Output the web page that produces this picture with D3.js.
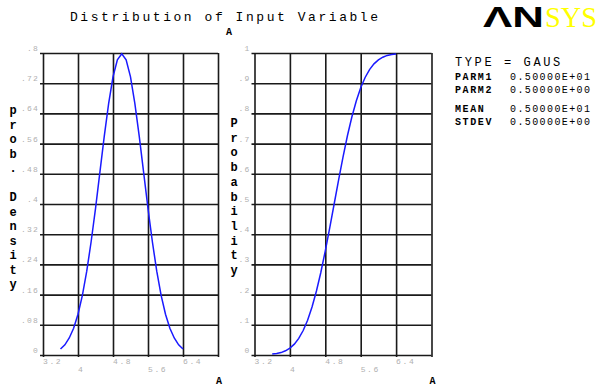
<!DOCTYPE html>
<html>
<head>
<meta charset="utf-8">
<script src="https://cdn.jsdelivr.net/npm/d3@7"></script>
<style>
  body { margin: 0; background: #fff; }
  svg { display: block; font-family: "Liberation Mono", "DejaVu Sans Mono", monospace; }
</style>
</head>
<body>
<div id="chart"></div>
<script>
// values (normal, mean 5, sd 0.5)
const xVals = [3.6, 3.7, 3.8, 3.9, 4.0, 4.1, 4.2, 4.3, 4.4, 4.5, 4.6, 4.7, 4.8, 4.9, 5.0,
  5.1, 5.2, 5.3, 5.4, 5.5, 5.6, 5.7, 5.8, 5.9, 6.0, 6.1, 6.2, 6.3, 6.4];
const densityVals = [0.016, 0.027, 0.045, 0.071, 0.108, 0.158, 0.222, 0.300, 0.388, 0.484,
  0.579, 0.666, 0.737, 0.782, 0.798, 0.782, 0.737, 0.666, 0.579, 0.484, 0.388, 0.300,
  0.222, 0.158, 0.108, 0.071, 0.045, 0.027, 0.016];
const probVals = [0.003, 0.005, 0.008, 0.014, 0.023, 0.036, 0.055, 0.081, 0.115, 0.159,
  0.212, 0.274, 0.345, 0.421, 0.500, 0.579, 0.655, 0.726, 0.788, 0.841, 0.885, 0.919,
  0.945, 0.964, 0.977, 0.986, 0.992, 0.995, 0.997];

const xTicks = [3.2, 4.0, 4.8, 5.6, 6.4, 7.2];
const xTickLabels = ["3.2", "4", "4.8", "5.6", "6.4", ""];
const densTicks = [0, 0.08, 0.16, 0.24, 0.32, 0.4, 0.48, 0.56, 0.64, 0.72, 0.8];
const densTickLabels = ["0", ".08", ".16", ".24", ".32", ".4", ".48", ".56", ".64", ".72", ".8"];
const probTicks = [0, 0.1, 0.2, 0.3, 0.4, 0.5, 0.6, 0.7, 0.8, 0.9, 1];
const probTickLabels = ["0", ".1", ".2", ".3", ".4", ".5", ".6", ".7", ".8", ".9", "1"];

const infoLabels = ["PARM1", "PARM2", "MEAN", "STDEV"];
const infoValues = ["0.50000E+01", "0.50000E+00", "0.50000E+01", "0.50000E+00"];

const width = 603, height = 387;
const plotTop = 53, plotBottom = 355;

const svg = d3.select("#chart").append("svg")
  .attr("width", width)
  .attr("height", height);

// title
svg.append("text")
  .attr("x", 70).attr("y", 21)
  .attr("font-size", 13)
  .attr("letter-spacing", 2.55)
  .attr("fill", "#000")
  .text("Distribution of Input Variable");
svg.append("text")
  .attr("x", 229).attr("y", 35)
  .attr("text-anchor", "middle")
  .attr("font-size", 10).attr("font-weight", "bold")
  .text("A");

function panel(left, right, yTicks, yLabels, yMax, yVals, yTitle, titleX, titleY0, titleStep) {
  const x = d3.scaleLinear().domain([3.2, 7.2]).range([left, right]);
  const y = d3.scaleLinear().domain([0, yMax]).range([plotBottom, plotTop]);
  const g = svg.append("g");

  // horizontal grid, ticks stick out a little on the left
  g.append("g")
    .attr("transform", `translate(${left - 3},0)`)
    .call(d3.axisLeft(y).tickValues(yTicks).tickSize(-(right - left + 3)).tickFormat(""))
    .call(a => a.select(".domain").remove())
    .call(a => a.selectAll("line").attr("stroke", "#1a1a1a").attr("stroke-width", 1.6));

  // vertical grid
  g.append("g")
    .attr("transform", `translate(0,${plotBottom + 2})`)
    .call(d3.axisBottom(x).tickValues(xTicks).tickSize(-(plotBottom - plotTop + 2)).tickFormat(""))
    .call(a => a.select(".domain").remove())
    .call(a => a.selectAll("line").attr("stroke", "#1a1a1a").attr("stroke-width", 1.6));

  // y tick labels
  g.selectAll(".ylab").data(yTicks).join("text")
    .attr("x", left - 4)
    .attr("y", d => y(d) - 2)
    .attr("text-anchor", "end")
    .attr("font-size", 8)
    .attr("letter-spacing", 1.2)
    .attr("fill", "#b0b0b0")
    .text((d, i) => yLabels[i]);

  // x tick labels, staggered
  g.selectAll(".xlab").data(xTicks).join("text")
    .attr("x", d => x(d))
    .attr("y", (d, i) => i % 2 ? 372 : 364)
    .attr("font-size", 8)
    .attr("letter-spacing", 1.6)
    .attr("fill", "#b0b0b0")
    .text((d, i) => xTickLabels[i]);

  // curve
  const line = d3.line().x(d => x(d[0])).y(d => y(d[1]));
  g.append("path")
    .datum(xVals.map((v, i) => [v, yVals[i]]))
    .attr("d", line)
    .attr("fill", "none")
    .attr("stroke", "#1a1aff")
    .attr("stroke-width", 1.5);

  // axis name
  g.append("text")
    .attr("x", right + 1).attr("y", 384)
    .attr("text-anchor", "middle")
    .attr("font-size", 10).attr("font-weight", "bold")
    .text("A");

  // vertical y title, one letter per row
  g.selectAll(".ytitle").data(yTitle.split("")).join("text")
    .attr("x", titleX)
    .attr("y", (d, i) => titleY0 + i * titleStep + 4)
    .attr("text-anchor", "middle")
    .attr("font-size", 12).attr("font-weight", "bold")
    .attr("fill", "#000")
    .text(d => d);
}

panel(43, 218, densTicks, densTickLabels, 0.8, densityVals, "prob. Density", 13, 110, 14.5);
panel(254.5, 431.5, probTicks, probTickLabels, 1, probVals, "Probability", 234, 123, 14.7);

// logo
svg.append("text")
  .attr("x", 483).attr("y", 27)
  .style("font-family", "'Liberation Sans', Arial, sans-serif")
  .attr("font-weight", "bold")
  .attr("font-size", 29)
  .attr("textLength", 61)
  .attr("lengthAdjust", "spacingAndGlyphs")
  .attr("fill", "#000")
  .text("ΛN");
svg.append("text")
  .attr("x", 545).attr("y", 27)
  .style("font-family", "'Liberation Serif', 'Times New Roman', serif")
  .attr("font-size", 29)
  .attr("textLength", 52)
  .attr("lengthAdjust", "spacingAndGlyphs")
  .attr("fill", "#ffff00")
  .text("SYS");

// info block
svg.append("text")
  .attr("x", 455).attr("y", 66)
  .attr("font-size", 12)
  .attr("letter-spacing", 2.6)
  .text("TYPE = GAUS");

const infoY = [80, 92.5, 112, 125];
svg.selectAll(".ilab").data(infoLabels).join("text")
  .attr("x", 455)
  .attr("y", (d, i) => infoY[i])
  .attr("font-size", 10).attr("font-weight", "bold")
  .attr("letter-spacing", 1.6)
  .text(d => d);
svg.selectAll(".ival").data(infoValues).join("text")
  .attr("x", 510)
  .attr("y", (d, i) => infoY[i])
  .attr("font-size", 10)
  .attr("letter-spacing", 1.4)
  .text(d => d);
</script>
</body>
</html>
